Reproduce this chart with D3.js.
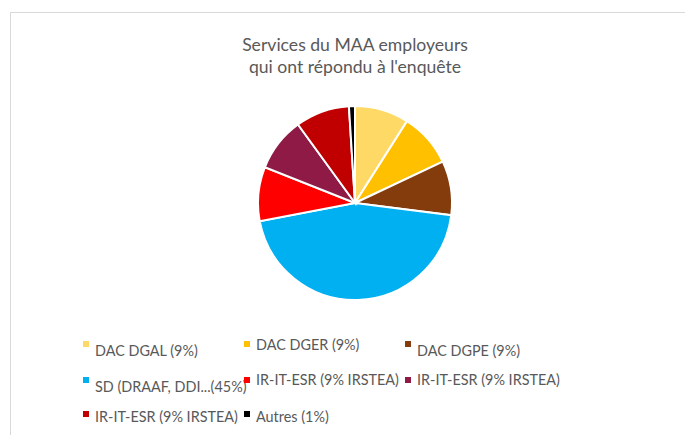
<!DOCTYPE html>
<html>
<head>
<meta charset="utf-8">
<script src="https://cdn.jsdelivr.net/npm/d3@7"></script>
<style>
  body { margin: 0; background: #fff; }
  text { font-family: Lato, "Open Sans", sans-serif; fill: #595959; }
</style>
</head>
<body>
<div id="chart-container"></div>
<script>
const labels = ["DAC DGAL (9%)", "DAC DGER (9%)", "DAC DGPE (9%)", "SD (DRAAF, DDI...(45%)",
    "IR-IT-ESR (9% IRSTEA)", "IR-IT-ESR (9% IRSTEA)", "IR-IT-ESR (9% IRSTEA)", "Autres (1%)"];
const values = [9, 9, 9, 45, 9, 9, 9, 1];
const colors = ["#FFD966", "#FFC000", "#843C0C", "#00B0F0", "#FF0000", "#8E1A45", "#C00000", "#000000"];
const titleLines = ["Services du MAA employeurs", "qui ont répondu à l'enquête"];

const svgWidth = 685;
const svgHeight = 435;

const svg = d3.select("#chart-container")
    .append("svg")
    .attr("width", svgWidth)
    .attr("height", svgHeight);

// chart area border (runs off the right and bottom edges)
svg.append("rect")
    .attr("x", 10.5)
    .attr("y", 12.5)
    .attr("width", 700)
    .attr("height", 450)
    .attr("fill", "none")
    .attr("stroke", "#d9d9d9");

svg.selectAll("text.title")
    .data(titleLines)
    .enter()
    .append("text")
    .attr("class", "title")
    .attr("x", 355)
    .attr("y", (d, i) => 51 + i * 22)
    .attr("text-anchor", "middle")
    .attr("font-size", "17.6px")
    .text(d => d);

const pie = d3.pie().sort(null).value(d => d);
const arc = d3.arc().innerRadius(0).outerRadius(97);

svg.append("g")
    .attr("transform", "translate(355, 203)")
    .selectAll("path")
    .data(pie(values))
    .enter()
    .append("path")
    .attr("d", arc)
    .attr("fill", (d, i) => colors[i])
    .attr("stroke", "#fff")
    .attr("stroke-width", 2);

// legend: three columns, slight vertical offsets as in the original
const colX = [83, 244, 405];
const rowY = [344, 380, 414];
const textDy = [[7, 1, 7], [7, 0, 0], [3, 3]];

const legend = svg.selectAll("g.legend")
    .data(labels)
    .enter()
    .append("g")
    .attr("class", "legend")
    .attr("transform", (d, i) => `translate(${colX[i % 3]}, ${rowY[Math.floor(i / 3)]})`);

legend.append("rect")
    .attr("x", 0)
    .attr("y", -3)
    .attr("width", 6)
    .attr("height", 6)
    .attr("fill", (d, i) => colors[i]);

legend.append("text")
    .attr("x", 12)
    .attr("y", (d, i) => textDy[Math.floor(i / 3)][i % 3] + 5)
    .attr("font-size", "14.4px")
    .text(d => d);
</script>
</body>
</html>
